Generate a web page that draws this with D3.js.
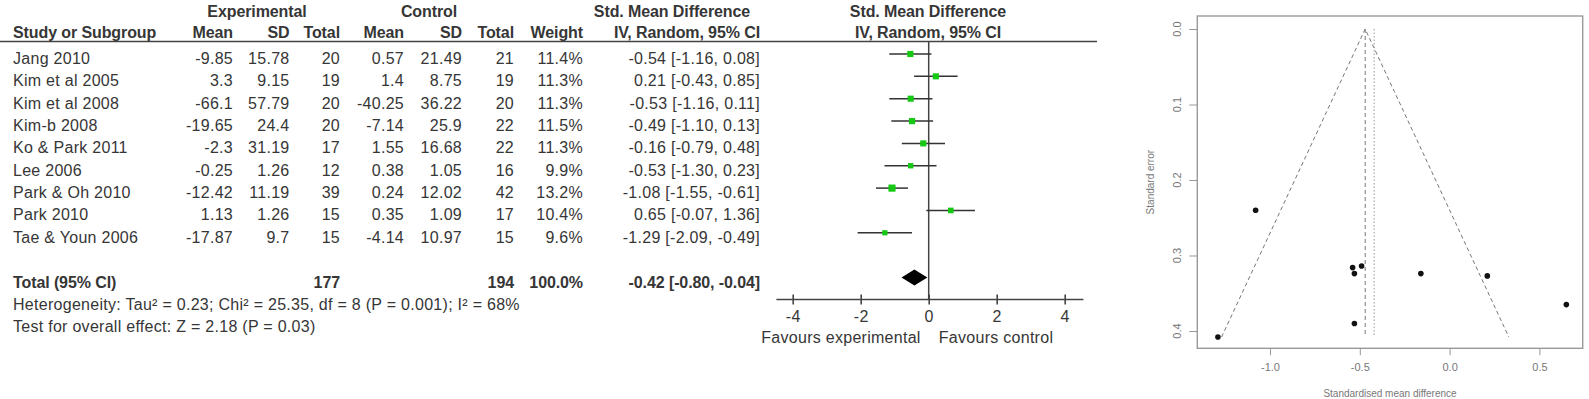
<!DOCTYPE html>
<html>
<head>
<meta charset="utf-8">
<script src="https://cdn.jsdelivr.net/npm/d3@7/dist/d3.min.js"></script>
<style>
  body { margin: 0; background: #fff; }
  text { font-family: "Liberation Sans", Arial, sans-serif; }
  .tbl { font-size: 16px; fill: #363636; letter-spacing: 0.28px; }
  .hdr { font-size: 16px; fill: #363636; font-weight: bold; letter-spacing: -0.1px; }
  .fun { font-size: 11px; fill: #777; }
</style>
</head>
<body>
<svg id="chart" width="1589" height="399"></svg>
<script>
// DATA
const studies = ["Jang 2010", "Kim et al 2005", "Kim et al 2008", "Kim-b 2008", "Ko & Park 2011",
  "Lee 2006", "Park & Oh 2010", "Park 2010", "Tae & Youn 2006"];
const expMean = [-9.85, 3.3, -66.1, -19.65, -2.3, -0.25, -12.42, 1.13, -17.87];
const expSD = [15.78, 9.15, 57.79, 24.4, 31.19, 1.26, 11.19, 1.26, 9.7];
const expN = [20, 19, 20, 20, 17, 12, 39, 15, 15];
const ctrlMean = [0.57, 1.4, -40.25, -7.14, 1.55, 0.38, 0.24, 0.35, -4.14];
const ctrlSD = [21.49, 8.75, 36.22, 25.9, 16.68, 1.05, 12.02, 1.09, 10.97];
const ctrlN = [21, 19, 20, 22, 22, 16, 42, 17, 15];
const weight = [11.4, 11.3, 11.3, 11.5, 11.3, 9.9, 13.2, 10.4, 9.6];
const smd = [-0.54, 0.21, -0.53, -0.49, -0.16, -0.53, -1.08, 0.65, -1.29];
const ciLow = [-1.16, -0.43, -1.16, -1.10, -0.79, -1.30, -1.55, -0.07, -2.09];
const ciHigh = [0.08, 0.85, 0.11, 0.13, 0.48, 0.23, -0.61, 1.36, -0.49];
const stdErr = [0.316, 0.327, 0.324, 0.314, 0.324, 0.390, 0.240, 0.365, 0.408];

const totalExpN = 177;
const totalCtrlN = 194;
const totalWeight = 100.0;
const pooled = [-0.42, -0.80, -0.04]; // estimate, low, high
const fixedEffect = -0.47;
const heterogeneity = "Heterogeneity: Tau\u00b2 = 0.23; Chi\u00b2 = 25.35, df = 8 (P = 0.001); I\u00b2 = 68%";
const overallTest = "Test for overall effect: Z = 2.18 (P = 0.03)";

const forestTicks = [-4, -2, 0, 2, 4];
const funnelXTicks = [-1.0, -0.5, 0.0, 0.5];
const funnelYTicks = [0.0, 0.1, 0.2, 0.3, 0.4];

const svg = d3.select("#chart");
const markY = i => 54 + i * 22.35;
const baseY = i => markY(i) + 10;
const f2 = d => d.toFixed(2);

// TABLE
const cols = [
  { vals: studies, x: 13, anchor: "start", fmt: String },
  { vals: expMean, x: 233, anchor: "end", fmt: String },
  { vals: expSD, x: 289.5, anchor: "end", fmt: String },
  { vals: expN, x: 340, anchor: "end", fmt: String },
  { vals: ctrlMean, x: 404, anchor: "end", fmt: String },
  { vals: ctrlSD, x: 462, anchor: "end", fmt: String },
  { vals: ctrlN, x: 514, anchor: "end", fmt: String },
  { vals: weight, x: 583, anchor: "end", fmt: d => d.toFixed(1) + "%" },
  { vals: smd.map((d, i) => i), x: 760, anchor: "end",
    fmt: i => f2(smd[i]) + " [" + f2(ciLow[i]) + ", " + f2(ciHigh[i]) + "]" }
];

cols.forEach(c => {
  svg.append("g").selectAll("text")
    .data(c.vals)
    .enter()
    .append("text")
    .attr("class", "tbl")
    .attr("x", c.x)
    .attr("y", (d, i) => baseY(i))
    .attr("text-anchor", c.anchor)
    .text(c.fmt);
});

// headers
const head1 = [["Experimental", 257], ["Control", 429], ["Std. Mean Difference", 672], ["Std. Mean Difference", 928]];
svg.append("g").selectAll("text").data(head1).enter().append("text")
  .attr("class", "hdr").attr("x", d => d[1]).attr("y", 17)
  .attr("text-anchor", "middle").text(d => d[0]);

const head2 = [["Study or Subgroup", 13, "start"], ["Mean", 233, "end"], ["SD", 289.5, "end"], ["Total", 340, "end"],
  ["Mean", 404, "end"], ["SD", 462, "end"], ["Total", 514, "end"], ["Weight", 583, "end"],
  ["IV, Random, 95% CI", 760, "end"], ["IV, Random, 95% CI", 928, "middle"]];
svg.append("g").selectAll("text").data(head2).enter().append("text")
  .attr("class", "hdr").attr("x", d => d[1]).attr("y", 38)
  .attr("text-anchor", d => d[2]).text(d => d[0]);

svg.append("line").attr("x1", 0).attr("x2", 1097).attr("y1", 41.5).attr("y2", 41.5)
  .attr("stroke", "#444").attr("stroke-width", 1.6);

// total row
const totRow = 10;
const totals = [["Total (95% CI)", 13, "start"], [String(totalExpN), 340, "end"], [String(totalCtrlN), 514, "end"],
  [totalWeight.toFixed(1) + "%", 583, "end"],
  [f2(pooled[0]) + " [" + f2(pooled[1]) + ", " + f2(pooled[2]) + "]", 760, "end"]];
svg.append("g").selectAll("text").data(totals).enter().append("text")
  .attr("class", "hdr").attr("x", d => d[1]).attr("y", baseY(totRow))
  .attr("text-anchor", d => d[2]).text(d => d[0]);

svg.append("text").attr("class", "tbl").attr("x", 13).attr("y", 310).text(heterogeneity);
svg.append("text").attr("class", "tbl").attr("x", 13).attr("y", 332).text(overallTest);

// FOREST PLOT
const fx = d3.scaleLinear().domain([-4, 4]).range([792.7, 1064.7]);
const axisY = 299.5;

svg.append("line").attr("x1", fx(0)).attr("x2", fx(0)).attr("y1", 41.5).attr("y2", axisY)
  .attr("stroke", "#444").attr("stroke-width", 1.5);

const forest = svg.append("g");
forest.selectAll("line.ci").data(smd).enter().append("line")
  .attr("class", "ci")
  .attr("x1", (d, i) => fx(ciLow[i])).attr("x2", (d, i) => fx(ciHigh[i]))
  .attr("y1", (d, i) => markY(i)).attr("y2", (d, i) => markY(i))
  .attr("stroke", "#333").attr("stroke-width", 1.5);

forest.selectAll("rect").data(smd).enter().append("rect")
  .attr("x", (d, i) => fx(d) - weight[i] * 0.27)
  .attr("y", (d, i) => markY(i) - weight[i] * 0.27)
  .attr("width", (d, i) => weight[i] * 0.54)
  .attr("height", (d, i) => weight[i] * 0.54)
  .attr("fill", "#14c814");

const dy = markY(totRow);
forest.append("path")
  .attr("d", d3.line()([[fx(pooled[1]), dy], [fx(pooled[0]), dy - 8], [fx(pooled[2]), dy], [fx(pooled[0]), dy + 8]]) + "Z")
  .attr("fill", "#000");

const fAxis = svg.append("g")
  .attr("transform", "translate(0," + axisY + ")")
  .call(d3.axisBottom(fx).tickValues(forestTicks).tickSize(5).tickPadding(6).tickFormat(d => String(d)));
fAxis.select(".domain").remove();
fAxis.append("line").attr("x1", fx(-4.48)).attr("x2", fx(4.55)).attr("stroke", "#444").attr("stroke-width", 1.6);
fAxis.selectAll(".tick line").attr("y1", -5).attr("stroke", "#444").attr("stroke-width", 1.6);
fAxis.selectAll(".tick text").attr("class", "tbl").attr("fill", "#444")
  .attr("font-family", null).attr("font-size", null).attr("dy", "0.71em");

svg.append("text").attr("class", "tbl").attr("x", 841).attr("y", 343).attr("text-anchor", "middle").text("Favours experimental");
svg.append("text").attr("class", "tbl").attr("x", 996).attr("y", 343).attr("text-anchor", "middle").text("Favours control");

// FUNNEL PLOT
const ux = d3.scaleLinear().domain([-1, 0.5]).range([1270, 1539.4]);
const uy = d3.scaleLinear().domain([0, 0.4]).range([29, 331]);
const box = { x0: 1197.3, x1: 1582.7, y0: 16, y1: 348.3 };
const maxSE = d3.max(stdErr);

svg.append("rect").attr("x", box.x0).attr("y", box.y0)
  .attr("width", box.x1 - box.x0).attr("height", box.y1 - box.y0)
  .attr("fill", "none").attr("stroke", "#999").attr("stroke-width", 1.4);

const funnel = svg.append("g");
funnel.append("path")
  .attr("d", d3.line()([[ux(fixedEffect - 1.96 * maxSE), uy(maxSE)], [ux(fixedEffect), uy(0)], [ux(fixedEffect + 1.96 * maxSE), uy(maxSE)]]))
  .attr("fill", "none").attr("stroke", "#777").attr("stroke-width", 1).attr("stroke-dasharray", "4,3");
funnel.append("line").attr("x1", ux(fixedEffect)).attr("x2", ux(fixedEffect))
  .attr("y1", uy(0)).attr("y2", uy(maxSE))
  .attr("stroke", "#777").attr("stroke-width", 1).attr("stroke-dasharray", "4,3");
funnel.append("line").attr("x1", ux(pooled[0])).attr("x2", ux(pooled[0]))
  .attr("y1", uy(0)).attr("y2", uy(maxSE))
  .attr("stroke", "#999").attr("stroke-width", 1).attr("stroke-dasharray", "1.5,2");

funnel.selectAll("circle").data(smd).enter().append("circle")
  .attr("cx", d => ux(d)).attr("cy", (d, i) => uy(stdErr[i]))
  .attr("r", 2.8).attr("fill", "#111");

const gx = svg.append("g").attr("transform", "translate(0," + box.y1 + ")")
  .call(d3.axisBottom(ux).tickValues(funnelXTicks).tickSize(7).tickPadding(8).tickFormat(d => d.toFixed(1)));
gx.select(".domain").remove();
gx.selectAll(".tick line").attr("stroke", "#999");
gx.selectAll(".tick text").attr("class", "fun").attr("font-family", null).attr("font-size", null);

const gy = svg.append("g").attr("transform", "translate(" + box.x0 + ",0)")
  .call(d3.axisLeft(uy).tickValues(funnelYTicks).tickSize(8).tickFormat(""));
gy.select(".domain").remove();
gy.selectAll(".tick line").attr("stroke", "#999");

// rotated y tick labels, as R draws them
svg.append("g").selectAll("text").data(funnelYTicks).enter().append("text")
  .attr("class", "fun")
  .attr("text-anchor", "middle")
  .attr("transform", d => "translate(" + (box.x0 - 20) + "," + uy(d) + ") rotate(-90)")
  .attr("dy", "0.35em")
  .text(d => d.toFixed(1));

svg.append("text").attr("class", "fun").style("font-size", "10px")
  .attr("x", (box.x0 + box.x1) / 2).attr("y", 397).attr("text-anchor", "middle")
  .text("Standardised mean difference");
svg.append("text").attr("class", "fun").style("font-size", "10px")
  .attr("text-anchor", "middle")
  .attr("transform", "translate(1154," + (box.y0 + box.y1) / 2 + ") rotate(-90)")
  .text("Standard error");
</script>
</body>
</html>
